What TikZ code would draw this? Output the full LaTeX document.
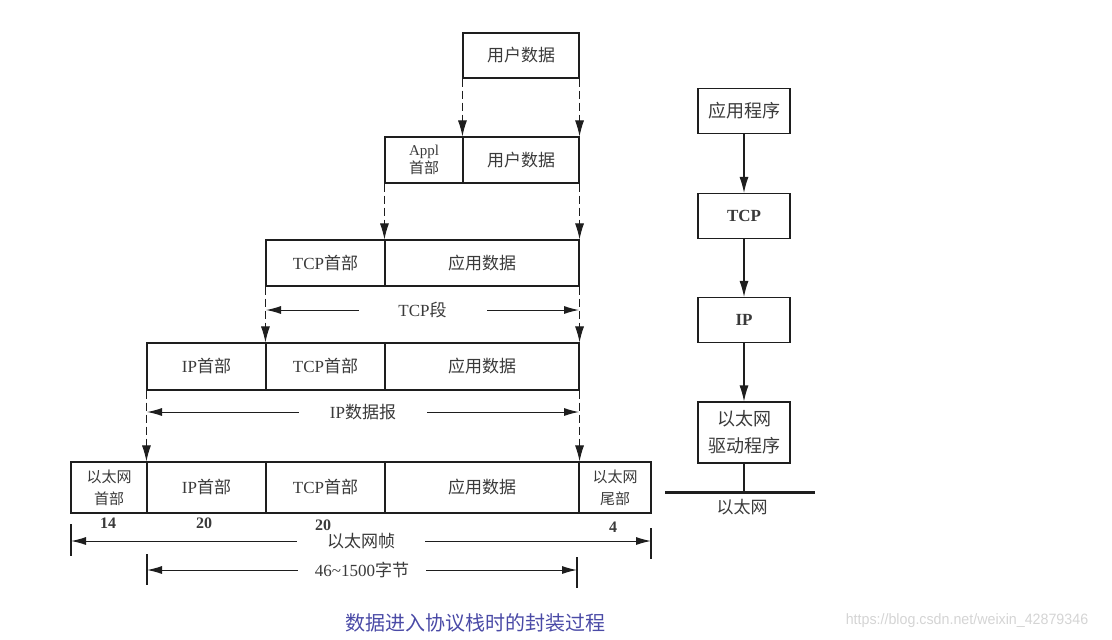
\documentclass[tikz,border=0pt]{standalone}
\usepackage{fontspec}
\setmainfont{Liberation Serif}
\newfontfamily\cjk{Noto Sans CJK SC}
\newfontfamily\wmfont{Liberation Sans}
\usetikzlibrary{arrows.meta}
\newcommand{\myfs}[1]{\fontsize{#1}{#1}\selectfont}
\newcommand{\zh}[1]{{\cjk #1}}
\definecolor{linec}{HTML}{1E1E1E}
\definecolor{txt}{HTML}{3A3A3A}
\definecolor{capc}{HTML}{4A4AA6}
\definecolor{wmc}{HTML}{D4D4D4}
\tikzset{
  cell/.style={draw=linec, line width=1.1pt, inner sep=0pt, text=txt, font=\myfs{17}, align=center},
  tip/.style={-{Latex[length=16pt,width=9pt]}},
  dasharrow/.style={draw=linec, line width=1pt, dash pattern=on 8pt off 4pt, tip},
  solidarrow/.style={draw=linec, line width=1.1pt, tip},
  dimline/.style={draw=linec, line width=1pt, {Latex[length=15pt,width=8pt]}-{Latex[length=15pt,width=8pt]}},
  dimlabel/.style={fill=white, inner ysep=2pt, inner xsep=0pt, minimum width=128pt, text=txt, font=\myfs{17}},
  tick/.style={draw=linec, line width=1.1pt},
  num/.style={text=txt, font=\myfs{16}\bfseries, inner sep=0pt},
}
\begin{document}
\begin{tikzpicture}[x=1pt,y=-1pt]
\useasboundingbox (0,0) rectangle (1112,640);

% Row 1
\node[cell, minimum width=116pt, minimum height=45pt] (u1) at (521,55.5) {\zh{用户数据}};
% Row 2
\node[cell, minimum width=78pt, minimum height=46pt] (a2) at (424,160) {\myfs{15}Appl\\[1pt]\myfs{15}\zh{首部}};
\node[cell, minimum width=116pt, minimum height=46pt] (u2) at (521,160) {\zh{用户数据}};
% Row 3
\node[cell, minimum width=119pt, minimum height=46pt] (t3) at (325.5,263) {TCP\zh{首部}};
\node[cell, minimum width=194pt, minimum height=46pt] (d3) at (482,263) {\zh{应用数据}};
% Row 4
\node[cell, minimum width=119pt, minimum height=47pt] (i4) at (206.5,366.5) {IP\zh{首部}};
\node[cell, minimum width=119pt, minimum height=47pt] (t4) at (325.5,366.5) {TCP\zh{首部}};
\node[cell, minimum width=194pt, minimum height=47pt] (d4) at (482,366.5) {\zh{应用数据}};
% Row 5
\node[cell, minimum width=76pt, minimum height=51pt] (e5) at (109,487.5) {\myfs{15}\zh{以太网}\\[5pt]\myfs{15}\zh{首部}};
\node[cell, minimum width=119pt, minimum height=51pt] (i5) at (206.5,487.5) {IP\zh{首部}};
\node[cell, minimum width=119pt, minimum height=51pt] (t5) at (325.5,487.5) {TCP\zh{首部}};
\node[cell, minimum width=194pt, minimum height=51pt] (d5) at (482,487.5) {\zh{应用数据}};
\node[cell, minimum width=72pt, minimum height=51pt] (r5) at (615,487.5) {\myfs{15}\zh{以太网}\\[5pt]\myfs{15}\zh{尾部}};

% dashed arrows
\draw[dasharrow] (u1.south west) -- (u2.north west);
\draw[dasharrow] (u1.south east) -- (u2.north east);
\draw[dasharrow] (a2.south west) -- (d3.north west);
\draw[dasharrow] (u2.south east) -- (d3.north east);
\draw[dasharrow] (t3.south west) -- (t4.north west);
\draw[dasharrow] (d3.south east) -- (d4.north east);
\draw[dasharrow] (i4.south west) -- (i5.north west);
\draw[dasharrow] (d4.south east) -- (d5.north east);

% dimension TCP段
\coordinate (tcpL) at (266,310);
\coordinate (tcpR) at (579,310);
\draw[dimline] (tcpL) -- node[dimlabel] {TCP\zh{段}} (tcpR);
% dimension IP数据报
\coordinate (ipL) at (147,412);
\coordinate (ipR) at (579,412);
\draw[dimline] (ipL) -- node[dimlabel] {IP\zh{数据报}} (ipR);

% numbers
\node[num] (n14) at (108,523) {14};
\node[num] (n20a) at (204,523) {20};
\node[num] (n20b) at (323,525) {20};
\node[num] (n4) at (613,527) {4};

% Ethernet frame dimension
\coordinate (efL) at (71,541);
\coordinate (efR) at (651,541);
\draw[tick] (71,524) -- (71,556);
\draw[tick] (651,528) -- (651,559);
\draw[dimline] (efL) -- node[dimlabel] {\zh{以太网帧}} (efR);

% 46~1500 dimension
\coordinate (plL) at (147,570);
\coordinate (plR) at (577,570);
\draw[tick] (147,554) -- (147,585);
\draw[tick] (577,557) -- (577,588);
\draw[dimline] (plL) -- node[dimlabel] {46\textasciitilde1500\zh{字节}} (plR);

% right stack
\node[cell, minimum width=92pt, minimum height=45pt, font=\myfs{18}] (app) at (744,111) {\zh{应用程序}};
\node[cell, minimum width=92pt, minimum height=45pt, font=\myfs{17}\bfseries] (tcp) at (744,216) {TCP};
\node[cell, minimum width=92pt, minimum height=45pt, font=\myfs{17}\bfseries] (ip) at (744,320) {IP};
\node[cell, minimum width=92pt, minimum height=61pt, font=\myfs{18}] (drv) at (744,432.5) {\zh{以太网}\\[9pt]\zh{驱动程序}};
\draw[solidarrow] (app) -- (tcp);
\draw[solidarrow] (tcp) -- (ip);
\draw[solidarrow] (ip) -- (drv);
\coordinate (busL) at (665,492);
\coordinate (busR) at (815,492);
\draw[draw=linec, line width=3pt] (busL) -- (busR);
\coordinate (busC) at (744,492);
\draw[draw=linec, line width=1.1pt] (drv.south) -- (busC);
\node[text=txt, font=\myfs{17}] (eth) at (742,507) {\zh{以太网}};

% caption
\node[text=capc, font=\myfs{20}\cjk] (cap) at (475,623) {数据进入协议栈时的封装过程};
\node[text=wmc, font=\myfs{15}\wmfont, xscale=0.95] (wm) at (967,621) {https://blog.csdn.net/weixin\_42879346};
\end{tikzpicture}
\end{document}
